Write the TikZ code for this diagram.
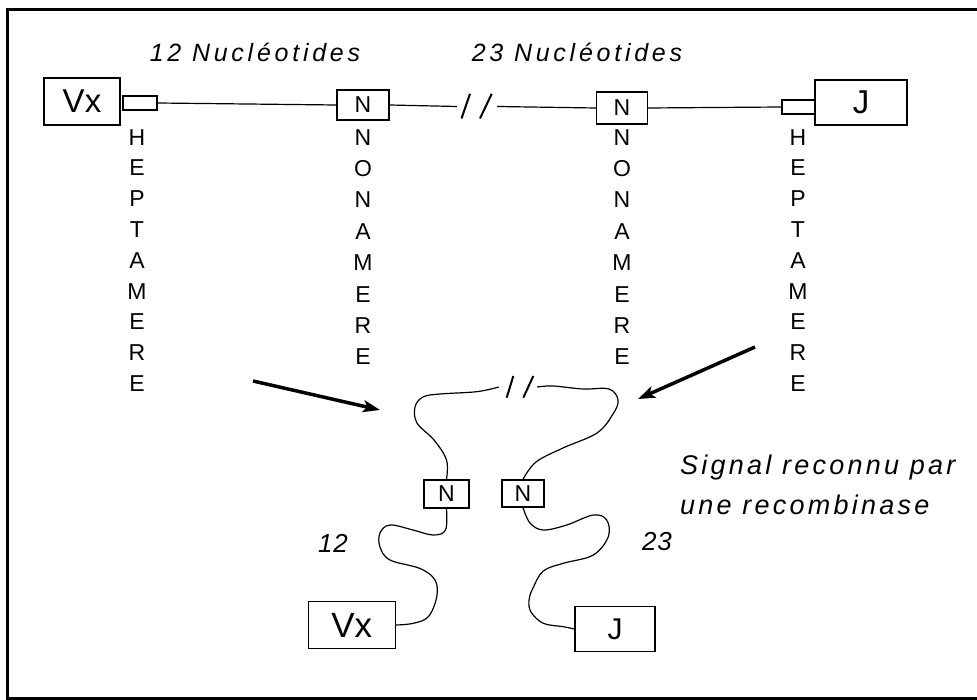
\documentclass[tikz,border=0pt]{standalone}
\usepackage{fontspec}
\setmainfont{Liberation Sans}
\usetikzlibrary{arrows.meta,calc}
\begin{document}
\begin{tikzpicture}[x=1pt,y=-1pt,
  thin line/.style={line width=1.2pt},
  slash/.style={line width=2pt},
  bigbox/.style={draw, line width=1.3pt, inner sep=0pt},
  vlet/.style={inner sep=0pt, anchor=north, align=center, font=\fontsize{23}{30.8}\selectfont},
  vlet2/.style={inner sep=0pt, anchor=north, align=center, font=\fontsize{23}{31.4}\selectfont},
  nuc/.style={inner sep=0pt, font=\fontsize{25}{28}\selectfont\itshape\addfontfeatures{LetterSpace=15}},
  num/.style={inner sep=0pt, font=\fontsize{26}{28}\selectfont\itshape\addfontfeatures{LetterSpace=4}},
  sig/.style={inner sep=0pt, anchor=west, align=left, font=\fontsize{27}{40}\selectfont\itshape\addfontfeatures{LetterSpace=12}},
  gap/.style={inner sep=0pt, minimum height=4pt, minimum width=#1},
  bigarrow/.style={line width=3.5pt, -{Stealth[length=17pt,width=12pt,inset=4pt]}}
]
\useasboundingbox (0,0) rectangle (977,700);
% frame
\draw[line width=3pt] (977,10) -- (7,10) -- (7,698) -- (977,698);

% top row
\node[bigbox, minimum width=76pt, minimum height=47pt, font=\fontsize{33}{36}\selectfont] (vx1) at (82,101.5) {Vx};
\node[bigbox, minimum width=34pt, minimum height=14pt] (h1) at (140,103) {};
\node[bigbox, minimum width=52pt, minimum height=30pt, font=\fontsize{23}{24}\selectfont] (n1) at (363,105) {N};
\node[gap=40pt] (sl1) at (477,106.5) {};
\draw[slash] ($(sl1)+(-15.5,12)$) -- ($(sl1)+(-7,-12.7)$);
\draw[slash] ($(sl1)+(3,12)$) -- ($(sl1)+(14.7,-12.7)$);
\node[bigbox, minimum width=51pt, minimum height=32pt, font=\fontsize{23}{24}\selectfont] (n2) at (622,108) {N};
\node[bigbox, minimum width=33pt, minimum height=14pt] (h2) at (798.5,107) {};
\node[bigbox, minimum width=92pt, minimum height=45pt, font=\fontsize{33}{36}\selectfont] (j1) at (861,102.5) {J};
\draw[thin line] (h1.east) -- (n1.west);
\draw[thin line] (n1.east) -- (sl1.west);
\draw[thin line] (sl1.east) -- (n2.west);
\draw[thin line] (n2.east) -- (h2.west);

\node[nuc] (t12) at (255,52) {12 Nucléotides};
\node[nuc] (t23) at (577,52) {23 Nucléotides};

% vertical words
\node[vlet] (hepL) at (137,129) {H\\E\\P\\T\\A\\M\\E\\R\\E};
\node[vlet2] (nonL) at (363,129) {N\\O\\N\\A\\M\\E\\R\\E};
\node[vlet2] (nonR) at (622,129) {N\\O\\N\\A\\M\\E\\R\\E};
\node[vlet] (hepR) at (798,129) {H\\E\\P\\T\\A\\M\\E\\R\\E};

% arrows
\coordinate (a1s) at (253,381);
\coordinate (a1e) at (380,410);
\coordinate (a2s) at (755,347);
\coordinate (a2e) at (638,399);
\draw[bigarrow] (a1s) -- (a1e);
\draw[bigarrow] (a2s) -- (a2e);

% lower part
\node[gap=38pt] (sl2) at (518,387) {};
\draw[slash] ($(sl2)+(-11.3,10.7)$) -- ($(sl2)+(-4.7,-11)$);
\draw[slash] ($(sl2)+(5.3,10.7)$) -- ($(sl2)+(15.3,-11)$);
\node[bigbox, minimum width=45pt, minimum height=28pt, font=\fontsize{23}{24}\selectfont] (n3) at (446.5,494) {N};
\node[bigbox, minimum width=42pt, minimum height=27pt, font=\fontsize{23}{24}\selectfont] (n4) at (523,493.5) {N};
\node[bigbox, minimum width=87pt, minimum height=47pt, font=\fontsize{35}{38}\selectfont] (vx2) at (351.7,625) {Vx};
\node[bigbox, minimum width=80pt, minimum height=45pt, font=\fontsize{30}{32}\selectfont] (j2) at (615,629) {J};

\draw[thin line] plot[smooth, tension=0.6] coordinates {(sl2.west) (476.7,391.7) (440,394) (423,397) (415,407) (417,423) (434,440) (446.5,460) (n3.north)};
\draw[thin line] plot[smooth, tension=0.6] coordinates {(sl2.east) (553,386) (583,389) (609,389) (618,400) (613,414) (597,433) (563,448) (536,462) (n4.north)};
\draw[thin line] plot[smooth, tension=0.6] coordinates {(n3.south) (445.5,530) (433,535) (413,530) (390,525) (380,533) (380,547) (390,560) (420,568.5) (435,580) (436.7,597) (428.3,616.7) (413.3,623.3) (vx2.east)};
\draw[thin line] plot[smooth, tension=0.6] coordinates {(n4.south) (530,523) (543.3,530) (566.7,525) (593.3,515) (606.7,520) (608.3,536.7) (593.3,555) (563.3,563.3) (543.3,571) (533,588) (529,600) (531,612) (543.3,623.3) (563.3,626.7) (j2.west)};

\node[num] (l12) at (333,543) {12};
\node[num] (l23) at (657,542) {23};
\node[sig] (sig) at (680,485) {Signal reconnu par\\une recombinase};
\end{tikzpicture}
\end{document}
